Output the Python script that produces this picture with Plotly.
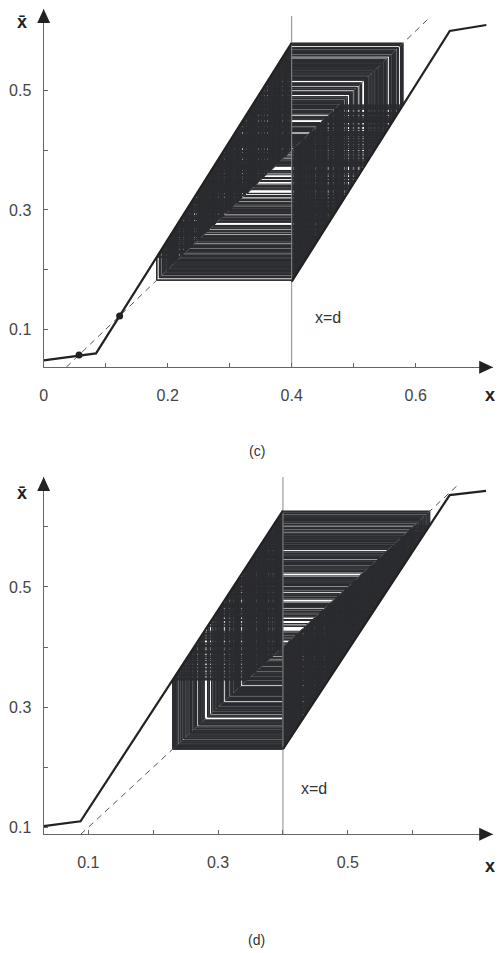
import numpy as np
import plotly.graph_objects as go

W, H = 499, 953
D = 0.4  # discontinuity x = d

# ---------------- panel (c) data ----------------
c_left_x = [0.0, 0.0844, 0.4]
c_left_y = [0.048, 0.0596, 0.58]
c_right_x = [0.4, 0.655, 0.714]
c_right_y = [0.18, 0.600, 0.610]
c_fixed_x = [0.057, 0.1225]
c_fixed_y = [0.057, 0.1225]
c_diag = [0.0365, 0.62]
c_dline = [0.0365, 0.625]
c_x0 = 0.31
c_xticks = [0.0, 0.1, 0.2, 0.3, 0.4, 0.5, 0.6]
c_xtext = ["0", "", "0.2", "", "0.4", "", "0.6"]
c_yticks = [0.1, 0.2, 0.3, 0.4, 0.5]
c_ytext = ["0.1", "", "0.3", "", "0.5"]

# ---------------- panel (d) data ----------------
d_left_x = [0.0312, 0.088, 0.4]
d_left_y = [0.102, 0.110, 0.627]
d_right_x = [0.4, 0.657, 0.713]
d_right_y = [0.23, 0.653, 0.660]
d_diag = [0.0884, 0.673]
d_dline = [0.0884, 0.683]
d_x0 = 0.33
d_xticks = [0.1, 0.2, 0.3, 0.4, 0.5, 0.6]
d_xtext = ["0.1", "", "0.3", "", "0.5", ""]
d_yticks = [0.1, 0.2, 0.3, 0.4, 0.5, 0.6]
d_ytext = ["0.1", "", "0.3", "", "0.5", ""]

N_ITER = 750

INK = "#2b2c30"
AXC = "#666666"
FONT = "Liberation Sans, Arial, sans-serif"


def make_map(lx, ly, rx, ry):
    def f(x):
        if x < D:
            return float(np.interp(x, lx, ly))
        return float(np.interp(x, rx, ry))
    return f


def cobweb(f, x0, n):
    xs, ys = [x0], [x0]
    x = x0
    for _ in range(n):
        y = f(x)
        xs += [x, y]
        ys += [y, y]
        x = y
    return xs, ys


def px2paper(px, py):
    return px / W, 1 - py / H


fig = go.Figure()

panels = [
    dict(name="c", xa="x", ya="y", lx=c_left_x, ly=c_left_y, rx=c_right_x, ry=c_right_y,
         diag=c_diag, dline=c_dline, x0=c_x0,
         xdom=(40, 493), ydom=(368, 9), xr=(0.0, (493 - 40) / 625), yr=(0.0365, 0.0365 + 359 / 598),
         xt=c_xticks, xtt=c_xtext, yt=c_yticks, ytt=c_ytext),
    dict(name="d", xa="x2", ya="y2", lx=d_left_x, ly=d_left_y, rx=d_right_x, ry=d_right_y,
         diag=d_diag, dline=d_dline, x0=d_x0,
         xdom=(40, 493), ydom=(836, 478), xr=((40 - 19.6) / 654, (493 - 19.6) / 654), yr=(0.0884, 0.0884 + 358 / 602),
         xt=d_xticks, xtt=d_xtext, yt=d_yticks, ytt=d_ytext),
]

layout_axes = {}
for i, p in enumerate(panels):
    f = make_map(p["lx"], p["ly"], p["rx"], p["ry"])
    cx, cy = cobweb(f, p["x0"], N_ITER)
    # cobweb
    fig.add_trace(go.Scatter(x=cx, y=cy, mode="lines", line=dict(color=INK, width=1),
                             xaxis=p["xa"], yaxis=p["ya"], hoverinfo="skip", showlegend=False))
    # diagonal
    fig.add_trace(go.Scatter(x=p["diag"], y=p["diag"], mode="lines",
                             line=dict(color="#555555", width=1, dash="6px,5px"),
                             xaxis=p["xa"], yaxis=p["ya"], showlegend=False))
    # x = d line
    fig.add_trace(go.Scatter(x=[D, D], y=p["dline"], mode="lines",
                             line=dict(color="#8a8a8a", width=1),
                             xaxis=p["xa"], yaxis=p["ya"], showlegend=False))
    # map branches
    fig.add_trace(go.Scatter(x=p["lx"], y=p["ly"], mode="lines", line=dict(color="#222222", width=2.2),
                             xaxis=p["xa"], yaxis=p["ya"], showlegend=False))
    fig.add_trace(go.Scatter(x=p["rx"], y=p["ry"], mode="lines", line=dict(color="#222222", width=2.2),
                             xaxis=p["xa"], yaxis=p["ya"], showlegend=False))

    sfx = "" if i == 0 else "2"
    xd = (p["xdom"][0] / W, p["xdom"][1] / W)
    yd = (1 - p["ydom"][0] / H, 1 - p["ydom"][1] / H)
    common = dict(showgrid=False, zeroline=False, showline=True, linecolor=AXC, linewidth=1.3,
                  ticks="inside", ticklen=4, tickcolor=AXC, tickwidth=1,
                  tickfont=dict(family=FONT, size=16, color="#444444"), tickmode="array")
    layout_axes["xaxis" + sfx] = dict(common, domain=list(xd), range=list(p["xr"]),
                                      tickvals=p["xt"], ticktext=p["xtt"],
                                      anchor="y" + sfx, ticklabelstandoff=13)
    layout_axes["yaxis" + sfx] = dict(common, domain=list(yd), range=list(p["yr"]),
                                      tickvals=p["yt"], ticktext=p["ytt"],
                                      anchor="x" + sfx, ticklabelstandoff=8)

# fixed points in (c)
fig.add_trace(go.Scatter(x=c_fixed_x, y=c_fixed_y, mode="markers",
                         marker=dict(color="#222222", size=7), xaxis="x", yaxis="y", showlegend=False))

fig.update_layout(**layout_axes)

# arrowheads
shapes = []
for (ax_px, ay_bot, ay_top, xr_px) in [(40, 368, 9, 493), (40, 836, 478, 493)]:
    p1 = px2paper(ax_px, ay_top)
    p2 = px2paper(ax_px - 6.5, ay_top + 14)
    p3 = px2paper(ax_px + 6.5, ay_top + 14)
    shapes.append(dict(type="path", xref="paper", yref="paper",
                       path=f"M{p1[0]},{p1[1]} L{p2[0]},{p2[1]} L{p3[0]},{p3[1]} Z",
                       fillcolor="#222222", line=dict(width=0)))
    q1 = px2paper(xr_px, ay_bot)
    q2 = px2paper(xr_px - 14, ay_bot - 6.5)
    q3 = px2paper(xr_px - 14, ay_bot + 6.5)
    shapes.append(dict(type="path", xref="paper", yref="paper",
                       path=f"M{q1[0]},{q1[1]} L{q2[0]},{q2[1]} L{q3[0]},{q3[1]} Z",
                       fillcolor="#222222", line=dict(width=0)))
fig.update_layout(shapes=shapes)

# text annotations
ann = []
def add_text(txt, px, py, size, bold=False, color="#333333"):
    x, y = px2paper(px, py)
    t = f"<b>{txt}</b>" if bold else txt
    ann.append(dict(text=t, x=x, y=y, xref="paper", yref="paper", xanchor="center", yanchor="middle",
                    showarrow=False, font=dict(family=FONT, size=size, color=color)))

add_text("x\u0304", 18, 22, 18, bold=True, color="#222222")
add_text("x\u0304", 18, 494, 18, bold=True, color="#222222")
add_text("x", 490, 396, 18, bold=True, color="#222222")
add_text("x", 490, 868, 18, bold=True, color="#222222")
add_text("x=d", 327, 318, 16)
add_text("x=d", 313, 790, 16)
add_text("(c)", 255, 452, 14)
add_text("(d)", 255, 942, 14)
fig.update_layout(annotations=ann)

fig.update_layout(width=W, height=H, margin=dict(l=0, r=0, t=0, b=0),
                  paper_bgcolor="white", plot_bgcolor="white", showlegend=False)

fig.write_html("out.html")
